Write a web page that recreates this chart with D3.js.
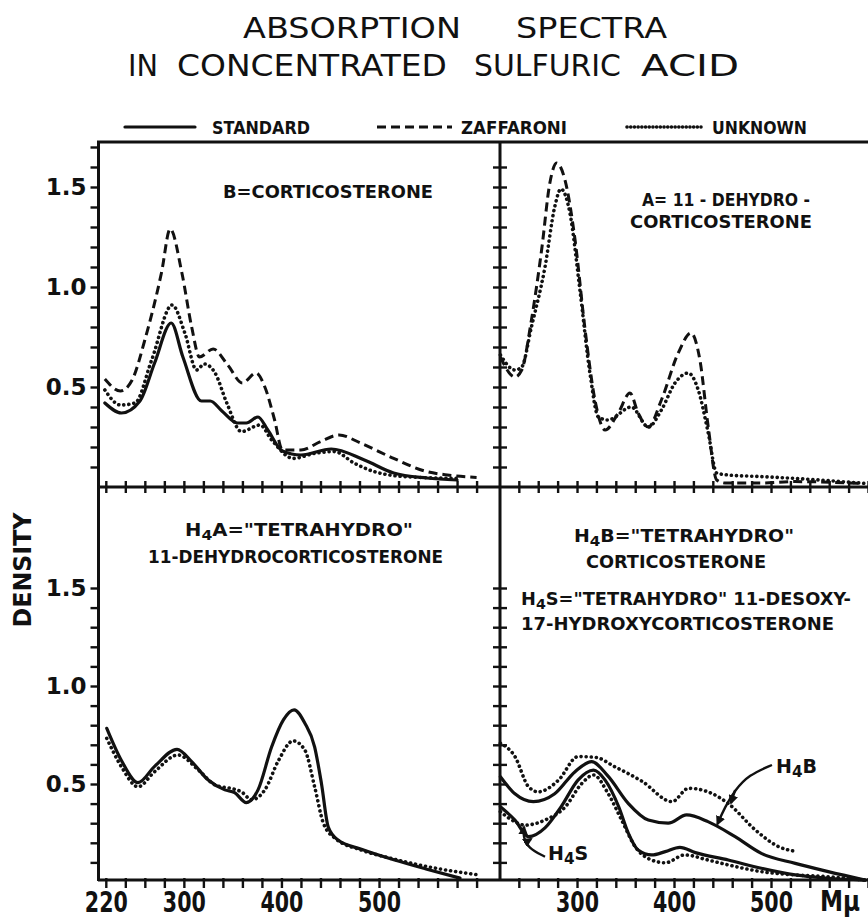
<!DOCTYPE html>
<html>
<head>
<meta charset="utf-8">
<script src="https://cdn.jsdelivr.net/npm/d3@7"></script>
<style>
  body { margin: 0; background: #fff; }
  text { font-family: "DejaVu Sans", sans-serif; fill: #111; }
</style>
</head>
<body>
<svg id="chart" width="868" height="919"></svg>
<script>
/* global d3 */

// [wavelength in mu, density]
const bStandard = [[219, 0.42], [236, 0.37], [255, 0.43], [270, 0.62], [287, 0.82], [299, 0.65], [318, 0.43], [327, 0.43], [339, 0.38], [355, 0.32], [364, 0.32], [376, 0.35], [386, 0.285], [401, 0.18], [420, 0.16], [451, 0.19], [485, 0.135], [515, 0.07], [549, 0.045], [580, 0.035]];
const bZaffaroni = [[219, 0.54], [235, 0.48], [247, 0.535], [260, 0.735], [277, 1.07], [286, 1.29], [298, 1.07], [308, 0.8], [316, 0.65], [330, 0.69], [345, 0.61], [360, 0.52], [374, 0.57], [383, 0.5], [393, 0.335], [401, 0.185], [420, 0.185], [440, 0.227], [459, 0.26], [481, 0.22], [515, 0.143], [549, 0.077], [570, 0.06], [600, 0.048]];
const bUnknown = [[219, 0.485], [235, 0.41], [250, 0.42], [267, 0.635], [288, 0.91], [301, 0.77], [313, 0.585], [321, 0.615], [332, 0.57], [344, 0.42], [359, 0.277], [378, 0.31], [390, 0.235], [412, 0.143], [434, 0.168], [454, 0.177], [475, 0.118], [495, 0.077], [532, 0.05], [583, 0.043]];

const aZaffaroni = [[221, 0.65], [236, 0.55], [243, 0.585], [253, 0.835], [263.5, 1.185], [272, 1.52], [279, 1.62], [287.6, 1.535], [298, 1.235], [308, 0.8], [318.5, 0.435], [329, 0.285], [342.5, 0.37], [354.6, 0.47], [363, 0.37], [373.5, 0.3], [387, 0.435], [404.4, 0.67], [417.5, 0.77], [426.7, 0.635], [435.3, 0.3], [444, 0.035], [452.5, 0.02], [490, 0.02], [524.7, 0.027], [593, 0.018]];
const aUnknown = [[221, 0.66], [236, 0.585], [243, 0.6], [253, 0.8], [267, 1.1], [277, 1.4], [283.4, 1.49], [292.7, 1.37], [303, 0.985], [313.3, 0.57], [322, 0.35], [332, 0.335], [356, 0.4], [373.5, 0.3], [387, 0.385], [401, 0.52], [414.7, 0.57], [425, 0.485], [435.3, 0.27], [444, 0.07], [456, 0.06], [490, 0.052], [524.7, 0.043], [559, 0.032], [597, 0.018]];

const h4aStandard = [[221, 0.784], [236, 0.62], [253, 0.507], [270, 0.59], [293, 0.677], [308, 0.614], [325, 0.52], [342, 0.47], [352, 0.456], [364, 0.405], [376, 0.47], [390, 0.69], [402, 0.827], [413, 0.878], [424, 0.81], [434, 0.69], [441, 0.503], [448, 0.28], [458, 0.214], [482, 0.167], [516, 0.112], [550, 0.064], [583, 0.02]];
const h4aUnknown = [[221, 0.733], [236, 0.588], [253, 0.486], [270, 0.563], [294, 0.648], [315, 0.571], [332, 0.495], [352, 0.473], [359, 0.46], [369.5, 0.42], [383, 0.47], [397, 0.62], [412, 0.72], [424, 0.673], [434, 0.486], [443, 0.3], [455, 0.223], [482, 0.163], [516, 0.116], [550, 0.078], [602, 0.036]];

const h4bStandard = [[221, 0.537], [236, 0.45], [255, 0.41], [277, 0.45], [298, 0.563], [315, 0.614], [332, 0.54], [353, 0.4], [373.5, 0.316], [394, 0.3], [413, 0.342], [435, 0.308], [463, 0.231], [490, 0.146], [525, 0.095], [559, 0.053], [597, 0.01]];
const h4bUnknown = [[221, 0.708], [236, 0.64], [250, 0.486], [260, 0.46], [281, 0.52], [301, 0.64], [319, 0.636], [339, 0.588], [367, 0.514], [398, 0.41], [415, 0.478], [435, 0.46], [456, 0.4], [484, 0.265], [508, 0.18], [527, 0.155]];
const h4sStandard = [[221, 0.384], [236, 0.316], [250, 0.231], [267, 0.276], [284, 0.387], [301, 0.52], [317, 0.571], [329, 0.52], [343, 0.384], [353, 0.248], [363, 0.163], [377, 0.138], [391, 0.155], [406, 0.177], [422, 0.15], [456, 0.112], [490, 0.07], [525, 0.036], [559, 0.019], [597, 0.01]];
const h4sUnknown = [[221, 0.359], [233, 0.316], [246, 0.29], [267, 0.316], [288, 0.384], [305, 0.503], [317, 0.546], [332, 0.452], [346, 0.316], [360, 0.18], [377, 0.112], [391, 0.098], [411, 0.138], [435, 0.112], [456, 0.087], [490, 0.053], [525, 0.036], [559, 0.027], [597, 0.01]];

// leader lines for the H4B / H4S call-outs (same units as the data)
const h4bLeader = [[501, 0.597], [477, 0.546], [463, 0.469], [452.6, 0.384], [444.8, 0.296]];
const h4bBranch = [[463, 0.469], [458.8, 0.403]];
const h4sLeader = [[267, 0.129], [249.5, 0.173], [244.3, 0.235], [245.4, 0.281]];
const h4sBranch = [[246, 0.199], [252.6, 0.219]];

const yLabels = [0.5, 1.0, 1.5];
const xLabelsLeft = [220, 300, 400, 500];
const xLabelsRight = [300, 400, 500];

const svg = d3.select('#chart');

// one shared x axis per column, two density scales (top row, bottom row)
const xL = d3.scaleLinear().domain([212, 624]).range([98, 500]);
const xR = d3.scaleLinear().domain([220.6, 600]).range([500, 868]);
const yTop = d3.scaleLinear().domain([0, 1.725]).range([487, 142]);
const yBot = d3.scaleLinear().domain([0, 2.0]).range([882, 490]);

const styles = {
  standard: { dash: null, width: 3.2, cap: 'round' },
  zaffaroni: { dash: '9 5', width: 3, cap: 'butt' },
  unknown: { dash: '0.1 5', width: 3.6, cap: 'round' },
};

svg.append('defs').append('marker')
    .attr('id', 'arrow')
    .attr('viewBox', '0 0 10 10')
    .attr('refX', 8).attr('refY', 5)
    .attr('markerWidth', 4).attr('markerHeight', 4)
    .attr('orient', 'auto')
  .append('path')
    .attr('d', 'M0,0 L10,5 L0,10 z')
    .attr('fill', '#111');

function drawSeries(data, x, y, kind) {
  const s = styles[kind];
  svg.append('path')
    .datum(data)
    .attr('fill', 'none')
    .attr('stroke', '#111')
    .attr('stroke-width', s.width)
    .attr('stroke-linecap', s.cap)
    .attr('stroke-linejoin', 'round')
    .attr('stroke-dasharray', s.dash)
    .attr('d', d3.line().x(d => x(d[0])).y(d => y(d[1])).curve(d3.curveMonotoneX));
}

function drawLeader(data, x, y, arrow) {
  svg.append('path')
    .datum(data)
    .attr('fill', 'none')
    .attr('stroke', '#111')
    .attr('stroke-width', 2.4)
    .attr('marker-end', arrow ? 'url(#arrow)' : null)
    .attr('d', d3.line().x(d => x(d[0])).y(d => y(d[1])).curve(d3.curveBasis));
}

// --- frame
const frame = svg.append('g')
  .attr('stroke', '#111').attr('stroke-width', 3).attr('fill', 'none');
frame.append('path').attr('d', 'M97,142H868');
frame.append('path').attr('d', 'M98.5,141V881');
frame.append('path').attr('d', `M98,${yTop(0)}H868`);
frame.append('path').attr('d', 'M98,880H868');
frame.append('path').attr('d', 'M500,141V881');

// --- y ticks
const fmtY = d => (yLabels.some(v => Math.abs(v - d) < 1e-6) ? d3.format('.1f')(d) : '');
const tenths = n => d3.range(1, n + 1).map(i => i / 10);

function styleAxis(g) {
  g.select('.domain').remove();
  g.selectAll('line').attr('stroke', '#111').attr('stroke-width', 2.4);
  g.selectAll('text')
    .attr('font-family', '"DejaVu Sans", sans-serif')
    .attr('font-weight', 'bold')
    .attr('fill', '#111');
}

svg.append('g').attr('transform', 'translate(98.5,0)')
  .call(d3.axisLeft(yTop).tickValues(tenths(17)).tickSize(8).tickPadding(4).tickFormat(fmtY))
  .call(styleAxis)
  .selectAll('text').attr('font-size', 23);
svg.append('g').attr('transform', 'translate(98.5,0)')
  .call(d3.axisLeft(yBot).tickValues(tenths(15)).tickSize(8).tickPadding(4).tickFormat(fmtY))
  .call(styleAxis)
  .selectAll('text').attr('font-size', 23);
svg.append('g').attr('transform', 'translate(507,0)')
  .call(d3.axisLeft(yTop).tickValues(tenths(16)).tickSize(14).tickFormat(''))
  .call(styleAxis);
svg.append('g').attr('transform', 'translate(507,0)')
  .call(d3.axisLeft(yBot).tickValues(tenths(15)).tickSize(14).tickFormat(''))
  .call(styleAxis);

// --- x ticks on the middle rule and on the bottom axis
const midY = yTop(0);
svg.append('g').attr('transform', `translate(0,${midY - 6})`)
  .call(d3.axisBottom(xL).tickValues(d3.range(220, 601, 20)).tickSize(12).tickFormat(''))
  .call(styleAxis);
svg.append('g').attr('transform', `translate(0,${midY - 6})`)
  .call(d3.axisBottom(xR).tickValues(d3.range(240, 601, 20)).tickSize(12).tickFormat(''))
  .call(styleAxis);

function bottomAxis(x, start, labels) {
  svg.append('g').attr('transform', 'translate(0,878)')
    .call(d3.axisBottom(x).tickValues(d3.range(start, 601, 20)).tickSize(10).tickPadding(4)
      .tickFormat(d => (labels.includes(d) ? d : '')))
    .call(styleAxis)
    .selectAll('text')
      .attr('font-size', 28)
      .attr('textLength', function () { return this.textContent ? 43 : null; })
      .attr('lengthAdjust', 'spacingAndGlyphs');
}
bottomAxis(xL, 220, xLabelsLeft);
bottomAxis(xR, 240, xLabelsRight);

svg.append('text')
  .attr('x', 820).attr('y', 911)
  .attr('font-size', 28).attr('font-weight', 'bold')
  .attr('textLength', 40).attr('lengthAdjust', 'spacingAndGlyphs')
  .text('Mμ');

// --- curves
drawSeries(bStandard, xL, yTop, 'standard');
drawSeries(bZaffaroni, xL, yTop, 'zaffaroni');
drawSeries(bUnknown, xL, yTop, 'unknown');

drawSeries(aZaffaroni, xR, yTop, 'zaffaroni');
drawSeries(aUnknown, xR, yTop, 'unknown');

drawSeries(h4aStandard, xL, yBot, 'standard');
drawSeries(h4aUnknown, xL, yBot, 'unknown');

drawSeries(h4bStandard, xR, yBot, 'standard');
drawSeries(h4bUnknown, xR, yBot, 'unknown');
drawSeries(h4sStandard, xR, yBot, 'standard');
drawSeries(h4sUnknown, xR, yBot, 'unknown');

drawLeader(h4bLeader, xR, yBot, true);
drawLeader(h4bBranch, xR, yBot, true);
drawLeader(h4sLeader, xR, yBot, true);
drawLeader(h4sBranch, xR, yBot, true);

// --- lettering
function label(x, y, size, weight, width, parts) {
  const t = svg.append('text')
    .attr('x', x).attr('y', y)
    .attr('font-size', size)
    .attr('font-weight', weight)
    .attr('textLength', width)
    .attr('lengthAdjust', width ? 'spacingAndGlyphs' : null);
  let down = 0;
  parts.forEach((p) => {
    const sub = p.startsWith('_');
    const dy = sub ? 3.5 : -down;
    down = sub ? 3.5 : 0;
    t.append('tspan')
      .attr('dy', dy || null)
      .attr('font-size', sub ? size * 0.8 : null)
      .text(sub ? p.slice(1) : p);
  });
  return t;
}

label(243, 38, 28, 'normal', 218, ['ABSORPTION']);
label(516, 38, 28, 'normal', 151, ['SPECTRA']);
label(128, 76, 31, 'normal', 30, ['IN']);
label(177, 76, 31, 'normal', 270, ['CONCENTRATED']);
label(474, 76, 31, 'normal', 147, ['SULFURIC']);
label(641, 76, 31, 'normal', 98, ['ACID']);

// legend
const legend = [
  { kind: 'standard', x0: 125, x1: 195, tx: 212, tw: 98, text: 'STANDARD' },
  { kind: 'zaffaroni', x0: 377, x1: 452, tx: 461, tw: 106, text: 'ZAFFARONI' },
  { kind: 'unknown', x0: 627, x1: 701, tx: 712, tw: 95, text: 'UNKNOWN' },
];
legend.forEach((l) => {
  const s = styles[l.kind];
  svg.append('line')
    .attr('x1', l.x0).attr('x2', l.x1).attr('y1', 127).attr('y2', 127)
    .attr('stroke', '#111').attr('stroke-width', s.width)
    .attr('stroke-linecap', s.cap)
    .attr('stroke-dasharray', l.kind === 'unknown' ? '0.1 3.6' : s.dash);
  label(l.tx, 134, 17, 'bold', l.tw, [l.text]);
});

// panel captions
label(223, 198, 18, 'bold', 210, ['B=CORTICOSTERONE']);
label(642, 206, 18, 'bold', 168, ['A= 11 - DEHYDRO -']);
label(630, 228, 18, 'bold', 182, ['CORTICOSTERONE']);
label(185, 536, 18, 'bold', 228, ['H', '_4', 'A="TETRAHYDRO"']);
label(148, 563, 18, 'bold', 295, ['11-DEHYDROCORTICOSTERONE']);
label(574, 542, 18, 'bold', 220, ['H', '_4', 'B="TETRAHYDRO"']);
label(586, 568, 18, 'bold', 180, ['CORTICOSTERONE']);
label(521, 605, 18, 'bold', 330, ['H', '_4', 'S="TETRAHYDRO"  11-DESOXY-']);
label(521, 630, 18, 'bold', 313, ['17-HYDROXYCORTICOSTERONE']);

// call-out names, left at natural width
label(776, 773, 19, 'bold', null, ['H', '_4', 'B']);
label(548, 860, 19, 'bold', null, ['H', '_4', 'S']);

svg.append('text')
  .attr('transform', 'translate(31,570) rotate(-90)')
  .attr('text-anchor', 'middle')
  .attr('font-size', 25).attr('font-weight', 'bold')
  .attr('textLength', 115).attr('lengthAdjust', 'spacingAndGlyphs')
  .text('DENSITY');
</script>
</body>
</html>
